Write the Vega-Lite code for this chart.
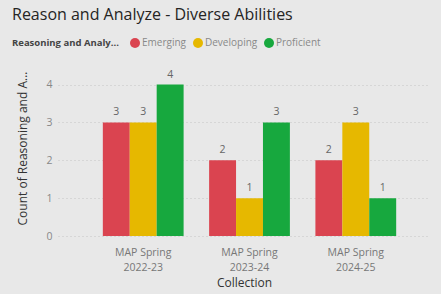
{
  "$schema": "https://vega.github.io/schema/vega-lite/v6.json",
  "width": 372,
  "height": 176,
  "autosize": {"type": "none"},
  "padding": {"left": 58, "top": 60, "right": 11, "bottom": 58},
  "background": "#e8e8e8",
  "title": {
    "text": "Reason and Analyze - Diverse Abilities",
    "anchor": "start",
    "frame": "group",
    "dx": -46,
    "offset": 14,
    "fontSize": 16,
    "font": "Open Sans",
    "fontWeight": "normal",
    "color": "#252423"
  },
  "config": {
    "view": {"stroke": null},
    "font": "Open Sans"
  },
  "data": {
    "values": [
      {"Collection": "MAP Spring 2022-23", "Level": "Emerging", "Count": 3},
      {"Collection": "MAP Spring 2022-23", "Level": "Developing", "Count": 3},
      {"Collection": "MAP Spring 2022-23", "Level": "Proficient", "Count": 4},
      {"Collection": "MAP Spring 2023-24", "Level": "Emerging", "Count": 2},
      {"Collection": "MAP Spring 2023-24", "Level": "Developing", "Count": 1},
      {"Collection": "MAP Spring 2023-24", "Level": "Proficient", "Count": 3},
      {"Collection": "MAP Spring 2024-25", "Level": "Emerging", "Count": 2},
      {"Collection": "MAP Spring 2024-25", "Level": "Developing", "Count": 3},
      {"Collection": "MAP Spring 2024-25", "Level": "Proficient", "Count": 1}
    ]
  },
  "encoding": {
    "x": {
      "field": "Collection",
      "type": "nominal",
      "scale": {"paddingInner": 0.24, "paddingOuter": 0.37, "align": 0.57},
      "axis": {
        "title": "Collection",
        "labelAngle": 0,
        "labelExpr": "[slice(datum.label,0,10), slice(datum.label,11)]",
        "labelFontSize": 10.5,
        "labelColor": "#777777",
        "labelLineHeight": 15,
        "labelPadding": 11,
        "ticks": false,
        "domain": false,
        "titleFontSize": 12,
        "titleFontWeight": "normal",
        "titleColor": "#333333",
        "titlePadding": 5
      }
    },
    "xOffset": {"field": "Level", "type": "nominal", "sort": ["Emerging", "Developing", "Proficient"], "scale": {"paddingInner": 0}},
    "y": {
      "field": "Count",
      "type": "quantitative",
      "scale": {"domain": [0, 4.65], "nice": false},
      "axis": {
        "title": "Count of Reasoning and A...",
        "values": [0, 1, 2, 3, 4],
        "labelFontSize": 10.5,
        "labelColor": "#888888",
        "labelPadding": 6,
        "ticks": false,
        "domain": false,
        "gridColor": "#c4c4c4",
        "gridDash": [1, 3],
        "titleFontSize": 12,
        "titleFontWeight": "normal",
        "titleColor": "#333333",
        "titlePadding": 16
      }
    }
  },
  "layer": [
    {
      "mark": {"type": "bar"},
      "encoding": {
        "color": {
          "field": "Level",
          "type": "nominal",
          "sort": ["Emerging", "Developing", "Proficient"],
          "scale": {"domain": ["Emerging", "Developing", "Proficient"], "range": ["#DA4450", "#E6B800", "#17A83E"]},
          "legend": {
            "title": "Reasoning and Analy...",
            "orient": "none",
            "legendX": -46,
            "legendY": -23,
            "direction": "horizontal",
            "titleOrient": "left",
            "titleFontSize": 9.5,
            "titleFontWeight": "bold",
            "titleColor": "#444444",
            "labelFontSize": 10,
            "labelColor": "#888888",
            "symbolType": "circle",
            "symbolSize": 100,
            "symbolOpacity": 1,
            "labelOffset": 1,
            "columnPadding": 5,
            "titlePadding": 10
          }
        }
      }
    },
    {
      "mark": {"type": "text", "dy": -10, "fontSize": 10.5, "color": "#666666"},
      "encoding": {"text": {"field": "Count", "type": "quantitative"}}
    }
  ]
}
